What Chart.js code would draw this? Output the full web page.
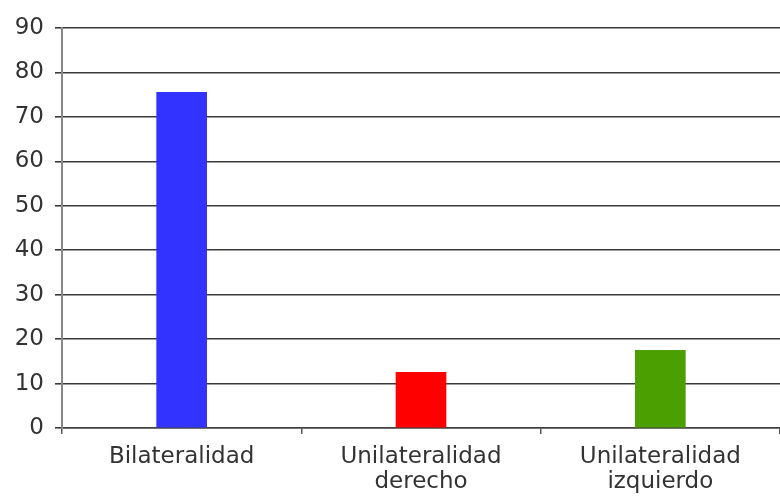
<!DOCTYPE html>
<html>
<head>
<meta charset="utf-8">
<script src="https://cdn.jsdelivr.net/npm/chart.js@4/dist/chart.umd.min.js"></script>
<style>
    html, body { margin: 0; padding: 0; background: #fff; }
    #wrap { width: 780px; height: 497px; position: relative; }
</style>
</head>
<body>
<div id="wrap"><canvas id="lateralidadChart"></canvas></div>
<script>
const categories = ['Bilateralidad', ['Unilateralidad', 'derecho'], ['Unilateralidad', 'izquierdo']];
const values = [75.5, 12.5, 17.5];
const barColors = ['#3333ff', '#ff0000', '#4c9f00'];
const yTicks = [0, 10, 20, 30, 40, 50, 60, 70, 80, 90];

document.addEventListener('DOMContentLoaded', function() {
    const ctx = document.getElementById('lateralidadChart');
    new Chart(ctx, {
        type: 'bar',
        data: {
            labels: categories,
            datasets: [{
                data: values,
                backgroundColor: barColors,
                borderWidth: 0,
                barThickness: 50
            }]
        },
        options: {
            responsive: true,
            maintainAspectRatio: false,
            animation: false,
            layout: {
                padding: { top: 28, right: 0, left: 0, bottom: 0 }
            },
            plugins: {
                legend: { display: false },
                tooltip: { enabled: false }
            },
            scales: {
                x: {
                    grid: {
                        display: true,
                        drawOnChartArea: false,
                        tickLength: 6,
                        color: '#555',
                        lineWidth: 1.5
                    },
                    border: { display: true, color: '#444', width: 1.5 },
                    ticks: {
                        color: '#333',
                        font: { family: 'DejaVu Sans', size: 23, lineHeight: 1.1 },
                        maxRotation: 0,
                        padding: 10
                    },
                    afterFit: function(scale) { scale.height = 69; }
                },
                y: {
                    min: yTicks[0],
                    max: yTicks[yTicks.length - 1],
                    afterBuildTicks: function(scale) {
                        scale.ticks = yTicks.map(v => ({ value: v }));
                    },
                    grid: {
                        color: '#3a3a3a',
                        lineWidth: 1.6,
                        tickLength: 7
                    },
                    border: { display: true, color: '#888', width: 2 },
                    ticks: {
                        color: '#333',
                        font: { family: 'DejaVu Sans', size: 23 },
                        padding: 11
                    },
                    afterFit: function(scale) { scale.width = 62; }
                }
            }
        }
    });
});
</script>
</body>
</html>
